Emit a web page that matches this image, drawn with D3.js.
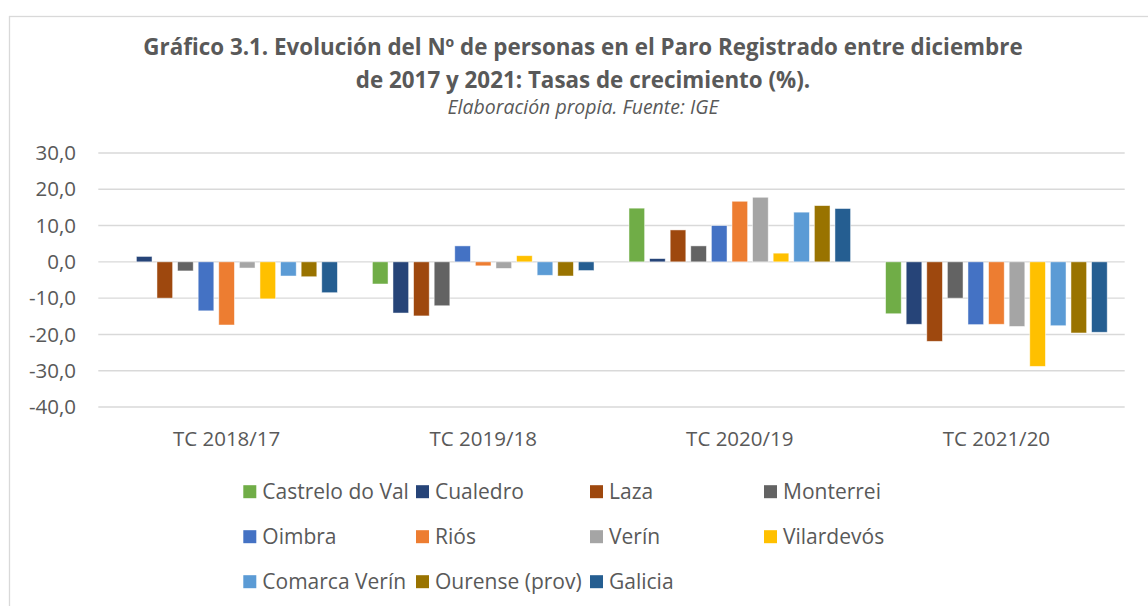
<!DOCTYPE html>
<html lang="es">
<head>
<meta charset="UTF-8">
<title>Gráfico 3.1</title>
<script src="https://cdn.jsdelivr.net/npm/d3@7"></script>
<style>
    body{
        margin: 0;
        background: #fff;
    }
    svg text{
        font-family: "Open Sans", "DejaVu Sans", sans-serif;
        fill: #595959;
    }
</style>
</head>
<body>
<svg></svg>
<script>
    const width = 1148;
    const height = 606;

    // categories on the x axis
    const categories = ["TC 2018/17", "TC 2019/18", "TC 2020/19", "TC 2021/20"];

    // series (one per territory), colors in legend order
    const seriesNames = ["Castrelo do Val", "Cualedro", "Laza", "Monterrei", "Oimbra", "Riós",
        "Verín", "Vilardevós", "Comarca Verín", "Ourense (prov)", "Galicia"];
    const seriesColors = ["#70AD47", "#264478", "#9E480E", "#636363", "#4472C4", "#ED7D31",
        "#A5A5A5", "#FFC000", "#5B9BD5", "#997300", "#255E91"];

    // growth rates (%), one value per category
    const castreloDoVal = [0.0, -6.1, 14.8, -14.3];
    const cualedro      = [1.5, -14.1, 0.9, -17.2];
    const laza          = [-10.0, -14.9, 8.8, -21.9];
    const monterrei     = [-2.5, -12.1, 4.4, -10.0];
    const oimbra        = [-13.5, 4.4, 10.0, -17.3];
    const rios          = [-17.4, -1.1, 16.7, -17.2];
    const verin         = [-1.7, -1.8, 17.8, -17.8];
    const vilardevos    = [-10.2, 1.7, 2.4, -28.8];
    const comarcaVerin  = [-3.9, -3.7, 13.7, -17.6];
    const ourense       = [-4.1, -3.9, 15.5, -19.6];
    const galicia       = [-8.5, -2.4, 14.7, -19.4];

    const yTicks = [30, 20, 10, 0, -10, -20, -30, -40];

    const seriesValues = [castreloDoVal, cualedro, laza, monterrei, oimbra, rios,
        verin, vilardevos, comarcaVerin, ourense, galicia];

    const svg = d3.select("svg")
        .attr("width", width)
        .attr("height", height);

    // chart border
    svg.append("rect")
        .attr("x", 9.5).attr("y", 16.5)
        .attr("width", width + 20).attr("height", height + 20)
        .attr("fill", "none")
        .attr("stroke", "#d9d9d9")
        .attr("stroke-width", 1.3);

    // titles - sized so they span the same width as the original
    function fitText(sel, target){
        let fs = parseFloat(sel.style("font-size"));
        const w = sel.node().getComputedTextLength();
        sel.style("font-size", (fs * target / w) + "px");
    }
    const t1 = svg.append("text")
        .attr("x", 583).attr("y", 55)
        .attr("text-anchor", "middle")
        .style("font-weight", "bold").style("font-size", "20px")
        .text("Gráfico 3.1. Evolución del Nº de personas en el Paro Registrado entre diciembre");
    fitText(t1, 880);
    svg.append("text")
        .attr("x", 583).attr("y", 88)
        .attr("text-anchor", "middle")
        .style("font-weight", "bold").style("font-size", t1.style("font-size"))
        .text("de 2017 y 2021: Tasas de crecimiento (%).");
    const sub = svg.append("text")
        .attr("x", 583).attr("y", 114)
        .attr("text-anchor", "middle")
        .style("font-style", "italic").style("font-size", "15px")
        .text("Elaboración propia. Fuente: IGE");
    fitText(sub, 271);

    // scales
    const x0 = d3.scaleBand()
        .domain(categories)
        .range([98.3, 1124.7])
        .paddingInner(0.117)
        .paddingOuter(0.0585);
    const x1 = d3.scaleBand()
        .domain(seriesNames)
        .range([0, x0.bandwidth()])
        .paddingInner(0.24)
        .paddingOuter(0.12);
    const y = d3.scaleLinear()
        .domain([-40, 30])
        .range([407, 153]);

    // gridlines
    svg.append("g")
        .selectAll("line")
        .data(yTicks)
        .join("line")
        .attr("x1", 98.3).attr("x2", 1124.7)
        .attr("y1", d => y(d)).attr("y2", d => y(d))
        .attr("stroke", "#d9d9d9")
        .attr("stroke-width", 1.4);

    // y axis labels
    svg.append("g")
        .selectAll("text")
        .data(yTicks)
        .join("text")
        .attr("x", 76)
        .attr("y", d => y(d))
        .attr("dy", "0.35em")
        .attr("text-anchor", "end")
        .style("font-size", "20.5px")
        .text(d => d3.format(".1f")(d).replace(".", ",").replace("−", "-"));

    // bars
    const groups = svg.append("g")
        .selectAll("g")
        .data(categories)
        .join("g")
        .attr("transform", d => `translate(${x0(d)},0)`);

    groups.selectAll("rect")
        .data((c, ci) => seriesNames.map((s, si) => ({s, si, v: seriesValues[si][ci]})))
        .join("rect")
        .attr("x", d => x1(d.s))
        .attr("width", x1.bandwidth())
        .attr("y", d => y(Math.max(0, d.v)))
        .attr("height", d => Math.abs(y(d.v) - y(0)))
        .attr("fill", d => seriesColors[d.si])
        .attr("stroke", "#ffffff")
        .attr("stroke-opacity", 0.6)
        .attr("stroke-width", 0.8);

    // category labels
    svg.append("g")
        .selectAll("text")
        .data(categories)
        .join("text")
        .attr("x", d => x0(d) + x0.bandwidth() / 2)
        .attr("y", 446)
        .attr("text-anchor", "middle")
        .style("font-size", "20.5px")
        .text(d => d);

    // legend (3 rows x 4 columns)
    const legendCols = [243.3, 416, 590, 764];
    const legendRows = [491.7, 536.7, 581.7];
    const legend = svg.append("g")
        .selectAll("g")
        .data(seriesNames)
        .join("g")
        .attr("transform", (d, i) => `translate(${legendCols[i % 4]},${legendRows[Math.floor(i / 4)]})`);
    legend.append("rect")
        .attr("x", 0).attr("y", -6.5)
        .attr("width", 13).attr("height", 13)
        .attr("fill", (d, i) => seriesColors[i]);
    legend.append("text")
        .attr("x", 19)
        .attr("dy", "0.35em")
        .style("font-size", "21px")
        .text(d => d);
</script>
</body>
</html>
